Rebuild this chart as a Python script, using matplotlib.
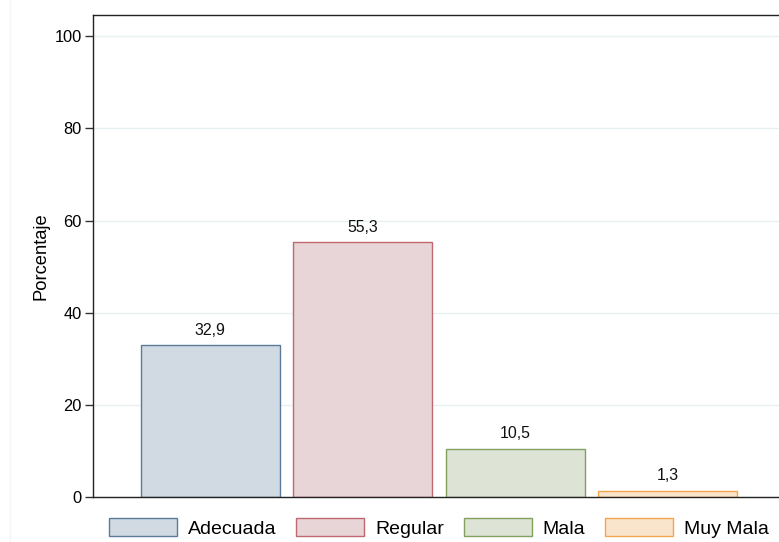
import matplotlib
matplotlib.use("Agg")
import matplotlib.pyplot as plt
from matplotlib.lines import Line2D
from matplotlib.patches import Patch
import numpy as np

plt.rcParams['font.family'] = ['Liberation Sans', 'DejaVu Sans']

categorias = ["Adecuada", "Regular", "Mala", "Muy Mala"]
porcentajes = [32.9, 55.3, 10.5, 1.3]
etiquetas = ["32,9", "55,3", "10,5", "1,3"]
yticks = [0, 20, 40, 60, 80, 100]

rellenos = ["#d1dae2", "#e8d5d7", "#dde3d5", "#f9e5cc"]
bordes = ["#5b7b9b", "#c06870", "#82a060", "#f2a650"]

fig = plt.figure(figsize=(7.79, 5.42), dpi=100)
# the plot region runs slightly past the right edge of the image
ax = fig.add_axes([93/779, 45/542, 692/779, 482/542])

x = np.arange(len(categorias))
for i in range(len(categorias)):
    ax.bar(x[i], porcentajes[i], width=0.911, color=rellenos[i],
           edgecolor=bordes[i], linewidth=1.0, zorder=3)
    ax.annotate(etiquetas[i], (x[i], porcentajes[i]), xytext=(0, 5.5),
                textcoords="offset points", ha="center", va="bottom",
                fontsize=11.4, color="#111111")

ax.set_xlim(-0.77, 3.77)
ax.set_ylim(0, 104.6)
ax.set_yticks(yticks)
ax.set_yticklabels([str(t) for t in yticks], fontsize=11.8)
ax.set_xticks([])
ax.tick_params(axis="y", length=5.8, width=1, color="#333333", pad=2.2)
ax.yaxis.grid(True, color="#e8f0f3", linewidth=1, zorder=0)
for s in ax.spines.values():
    s.set_color("#222222")
    s.set_linewidth(1.0)
ax.spines["bottom"].set_zorder(4)
ax.set_ylabel("Porcentaje", fontsize=13.2, labelpad=4)

# faint outer border of the graph region
fig.add_artist(Line2D([10/779, 10/779], [0, 1], color="#f3f5f7", linewidth=1))

handles = [Patch(facecolor=rellenos[i], edgecolor=bordes[i], linewidth=1.0)
           for i in range(len(categorias))]
fig.legend(handles, categorias, loc="center left",
           bbox_to_anchor=(109/779, 1 - 528/542), ncol=4, frameon=False,
           fontsize=14, handlelength=3.5, handleheight=1.05,
           handletextpad=0.57, columnspacing=1.0, borderpad=0,
           borderaxespad=0)

fig.savefig("out.png", dpi=100)
